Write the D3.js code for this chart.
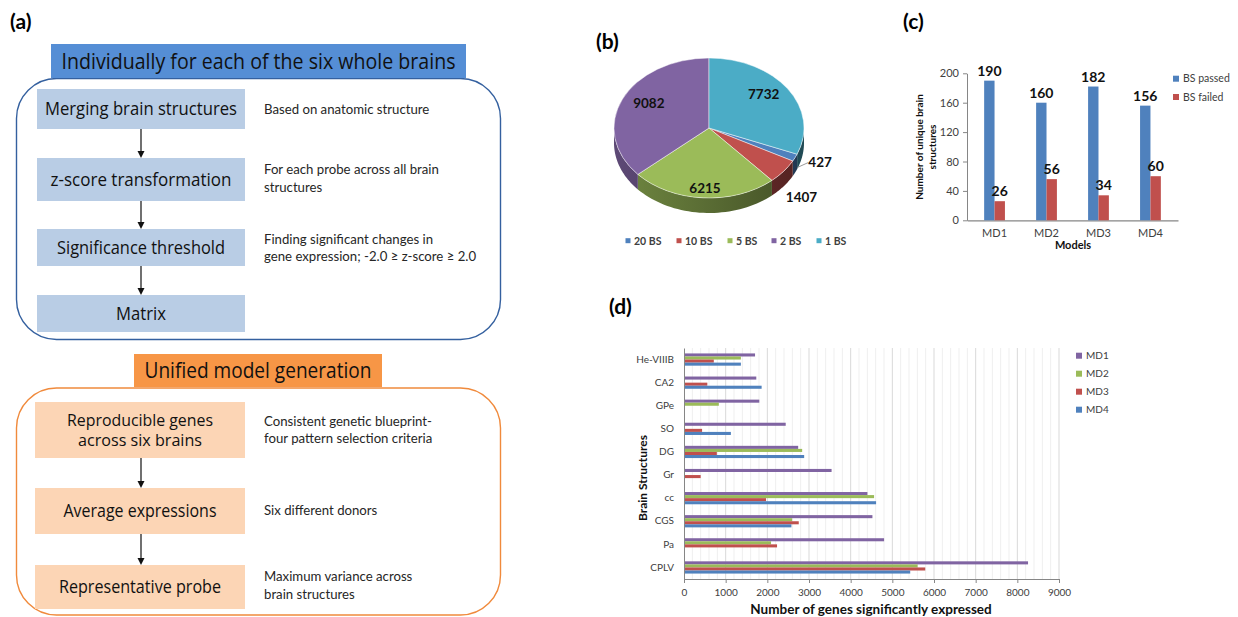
<!DOCTYPE html>
<html>
<head>
<meta charset="utf-8">
<script src="https://cdn.jsdelivr.net/npm/d3@7"></script>
<style>
  body { margin: 0; background: #fff; }
  svg { display: block; }
</style>
</head>
<body>
<svg id="fig" width="1238" height="617"></svg>
<script>
// ---------------- data ----------------
// (a) workflow steps and their notes
const perBrainTitle = "Individually for each of the six whole brains";
const perBrainSteps = [["Merging brain structures"], ["z-score transformation"], ["Significance threshold"], ["Matrix"]];
const perBrainNotes = [["Based on anatomic structure"], ["For each probe across all brain", "structures"],
  ["Finding significant changes in", "gene expression; -2.0 ≥ z-score ≥ 2.0"], []];
const unifiedTitle = "Unified model generation";
const unifiedSteps = [["Reproducible genes", "across six brains"], ["Average expressions"], ["Representative probe"]];
const unifiedNotes = [["Consistent genetic blueprint-", "four pattern selection criteria"], ["Six different donors"],
  ["Maximum variance across", "brain structures"]];

// (b) genes by number of brain structures
const pieLabels = ["20 BS", "10 BS", "5 BS", "2 BS", "1 BS"];
const pieValues = [427, 1407, 6215, 9082, 7732];

// (c) unique brain structures per model
const modelNames = ["MD1", "MD2", "MD3", "MD4"];
const bsPassed = [190, 160, 182, 156];
const bsFailed = [26, 56, 34, 60];
const cTicks = [0, 40, 80, 120, 160, 200];

// (d) genes significantly expressed per structure
const structures = ["He-VIIIB", "CA2", "GPe", "SO", "DG", "Gr", "cc", "CGS", "Pa", "CPLV"];
const md1 = [1705, 1735, 1807, 2441, 2740, 3542, 4402, 4522, 4802, 8257];
const md2 = [1365, 0, 836, 0, 2836, 0, 4562, 2595, 2089, 5607];
const md3 = [715, 560, 0, 434, 788, 400, 1968, 2754, 2233, 5790];
const md4 = [1365, 1863, 0, 1125, 2884, 0, 4610, 2578, 0, 5429];
const dTicks = [0, 1000, 2000, 3000, 4000, 5000, 6000, 7000, 8000, 9000];

// ---------------- styles ----------------
const SANS = "Lato, 'Open Sans', sans-serif";
const HAND = "'Open Sans', 'DejaVu Sans', sans-serif";
const OFFICE = { blue: "#4f81bd", red: "#c0504d", green: "#9bbb59", purple: "#8064a2", cyan: "#4bacc6" };
const AXIS = "#868686", TICKTXT = "#404040";

const svg = d3.select("#fig");

// panel tags
const tags = [{ t: "(a)", x: 10, y: 29 }, { t: "(b)", x: 596, y: 49 }, { t: "(c)", x: 903, y: 29 }, { t: "(d)", x: 609, y: 314 }];
svg.selectAll("text.tag").data(tags).join("text")
  .attr("class", "tag").attr("x", d => d.x).attr("y", d => d.y)
  .attr("font-family", SANS).attr("font-weight", 700).attr("font-size", 21).attr("fill", "#000")
  .text(d => d.t);

// ================= (a) workflow =================
function handText(g, str, cx, cy, size, len) {
  g.append("text").attr("x", cx).attr("y", cy + size * 0.36)
    .attr("text-anchor", "middle").attr("font-family", HAND).attr("font-size", size).attr("fill", "#111")
    .attr("textLength", len).attr("lengthAdjust", "spacingAndGlyphs").text(str);
}
function arrowDown(g, x, y1, y2) {
  const p = d3.path();
  p.moveTo(x, y1); p.lineTo(x, y2 - 6);
  g.append("path").attr("d", p.toString()).attr("stroke", "#111").attr("stroke-width", 1.2).attr("fill", "none");
  const h = d3.path();
  h.moveTo(x - 3.5, y2 - 7); h.lineTo(x + 3.5, y2 - 7); h.lineTo(x, y2); h.closePath();
  g.append("path").attr("d", h.toString()).attr("fill", "#111");
}
function flowSection(cfg) {
  const g = svg.append("g");
  g.append("rect").attr("x", 16.5).attr("y", cfg.frameY).attr("width", 484).attr("height", cfg.frameH)
    .attr("rx", 40).attr("ry", 40).attr("fill", "none").attr("stroke", cfg.frameStroke).attr("stroke-width", 1.4);
  g.append("rect").attr("x", cfg.head.x).attr("y", cfg.head.y).attr("width", cfg.head.w).attr("height", cfg.head.h)
    .attr("fill", cfg.headFill);
  handText(g, cfg.title, cfg.head.x + cfg.head.w / 2, cfg.head.y + cfg.head.h / 2, cfg.titleSize, cfg.titleLen);
  cfg.steps.forEach((lines, i) => {
    const b = cfg.boxes[i];
    g.append("rect").attr("x", b.x).attr("y", b.y).attr("width", b.w).attr("height", b.h).attr("fill", cfg.boxFill);
    const lh = 20;
    const size = lines.length > 1 ? 16 : 17.5;
    lines.forEach((ln, j) => {
      const cy = b.y + b.h / 2 + (j - (lines.length - 1) / 2) * lh;
      handText(g, ln, b.x + b.w / 2, cy, size, cfg.stepLens[i][j]);
    });
    if (i > 0) arrowDown(g, 141, cfg.boxes[i - 1].y + cfg.boxes[i - 1].h, b.y);
    const notes = cfg.notes[i];
    notes.forEach((ln, j) => {
      g.append("text").attr("x", 264).attr("y", cfg.noteY[i] + j * 17.3 + 4.6)
        .attr("font-family", SANS).attr("font-size", 13.2).attr("fill", "#262626").text(ln);
    });
  });
}
flowSection({
  frameY: 78.5, frameH: 261, frameStroke: "#34609f",
  head: { x: 51, y: 44, w: 415, h: 34 }, headFill: "#558ed5",
  title: perBrainTitle, titleSize: 21, titleLen: 394,
  boxFill: "#b9cde5",
  boxes: [{ x: 37, y: 89, w: 208, h: 40 }, { x: 37, y: 158, w: 208, h: 43 }, { x: 37, y: 229, w: 208, h: 37 }, { x: 37, y: 295, w: 208, h: 37 }],
  steps: perBrainSteps, stepLens: [[192], [181], [168], [50]],
  notes: perBrainNotes, noteY: [109.3, 169.7, 239, 0]
});
flowSection({
  frameY: 388, frameH: 227, frameStroke: "#f08a3c",
  head: { x: 134, y: 354, w: 248, h: 33 }, headFill: "#f79646",
  title: unifiedTitle, titleSize: 21, titleLen: 227,
  boxFill: "#fcd5b5",
  boxes: [{ x: 35, y: 402, w: 210, h: 56 }, { x: 35, y: 488, w: 210, h: 46 }, { x: 35, y: 565, w: 210, h: 44 }],
  steps: unifiedSteps, stepLens: [[146, 124], [153], [162]],
  notes: unifiedNotes, noteY: [421, 510.3, 576.7]
});

// ================= (b) 3-D pie =================
(function () {
  const cx = 709, cy = 128, rx = 95, ry = 70, depth = 15;
  const colors = [OFFICE.blue, OFFICE.red, OFFICE.green, OFFICE.purple, OFFICE.cyan];
  const total = d3.sum(pieValues);
  // rotate so that the last category starts at 12 o'clock
  const a0 = 2 * Math.PI * pieValues[pieValues.length - 1] / total;
  const arcs = d3.pie().sort(null).startAngle(a0).endAngle(a0 + 2 * Math.PI)(pieValues);
  const g = svg.append("g");
  const defs = svg.append("defs");
  const pt = (a, dz) => [cx + rx * Math.sin(a), cy - ry * Math.cos(a) + dz];
  const line = d3.line();

  // side walls (front half only)
  arcs.forEach((d, i) => {
    const grad = defs.append("linearGradient").attr("id", "side" + i).attr("gradientUnits", "userSpaceOnUse")
      .attr("x1", cx - rx).attr("x2", cx + rx).attr("y1", 0).attr("y2", 0);
    grad.append("stop").attr("offset", 0).attr("stop-color", d3.color(colors[i]).darker(0.9));
    grad.append("stop").attr("offset", 1).attr("stop-color", d3.color(colors[i]).darker(2.4));
    [[Math.PI / 2, 1.5 * Math.PI], [2.5 * Math.PI, 3.5 * Math.PI]].forEach(([lo, hi]) => {
      const s = Math.max(d.startAngle, lo), e = Math.min(d.endAngle, hi);
      if (e <= s) return;
      const n = 40, top = [], bot = [];
      for (let k = 0; k <= n; k++) {
        const a = s + (e - s) * k / n;
        top.push(pt(a, 0)); bot.push(pt(a, depth));
      }
      g.append("path").attr("d", line(top.concat(bot.reverse())) + "Z").attr("fill", `url(#side${i})`);
    });
  });

  // top faces
  const face = g.append("g").attr("transform", `translate(${cx},${cy}) scale(1,${ry / rx})`);
  const arc = d3.arc().innerRadius(0).outerRadius(rx);
  face.selectAll("path").data(arcs).join("path")
    .attr("d", arc).attr("fill", (d, i) => colors[i])
    .attr("stroke", "#ffffff").attr("stroke-opacity", 0.6).attr("stroke-width", 0.8)
    .attr("vector-effect", "non-scaling-stroke");

  // value labels
  const mid = d => (d.startAngle + d.endAngle) / 2;
  const lab = g.append("g").attr("font-family", SANS).attr("font-weight", 700).attr("font-size", 13.5)
    .attr("fill", "#111").attr("text-anchor", "middle");
  arcs.forEach((d, i) => {
    const a = mid(d);
    let x, y;
    if (d.value > 3000) {
      x = cx + 66 * Math.sin(a); y = cy - 60 * Math.cos(a);
    } else {
      const edge = pt(a, depth);
      x = edge[0] + (i === 0 ? 25 : 18); y = edge[1] + (i === 0 ? -10 : 11);
      if (i === 0) {
        g.append("path").attr("d", line([[edge[0] + 2, edge[1] - 5], [edge[0] + 13, edge[1] - 10]]))
          .attr("stroke", "#7f7f7f").attr("stroke-width", 0.8).attr("fill", "none");
      }
    }
    lab.append("text").attr("x", x).attr("y", y + 4.7).text(d3.format("d")(d.value));
  });

  // legend
  const legX = [628, 679, 730, 774, 819];
  const leg = g.append("g").attr("font-family", SANS).attr("font-weight", 700).attr("font-size", 10.5).attr("fill", TICKTXT);
  pieLabels.forEach((l, i) => {
    leg.append("rect").attr("x", legX[i] - 2.5).attr("y", 238.2).attr("width", 5).attr("height", 5).attr("fill", colors[i]);
    leg.append("text").attr("x", legX[i] + 6).attr("y", 244.5).text(l);
  });
})();

// ================= (c) grouped bars =================
(function () {
  const x = d3.scaleBand().domain(modelNames).range([967, 1178]).paddingInner(0.6).paddingOuter(0.33);
  const y = d3.scaleLinear().domain([0, 200]).range([220.3, 73.3]);
  const series = [{ key: "BS passed", vals: bsPassed, color: OFFICE.blue }, { key: "BS failed", vals: bsFailed, color: OFFICE.red }];
  const inner = d3.scaleBand().domain(series.map(s => s.key)).range([0, x.bandwidth()]);
  const g = svg.append("g");

  const ya = g.append("g").attr("transform", "translate(967,0)")
    .call(d3.axisLeft(y).tickValues(cTicks).tickSize(4).tickSizeOuter(0).tickPadding(4));
  ya.select(".domain").attr("stroke", AXIS);
  ya.selectAll(".tick line").attr("stroke", AXIS);
  ya.selectAll("text").attr("font-family", SANS).attr("font-size", 11).attr("fill", TICKTXT);

  const xa = g.append("g").attr("transform", "translate(0,220.3)")
    .call(d3.axisBottom(x).tickSize(0).tickPadding(9));
  xa.select(".domain").attr("stroke", AXIS).attr("stroke-width", 1.2);
  xa.selectAll("text").attr("font-family", SANS).attr("font-size", 11).attr("fill", TICKTXT);

  series.forEach(s => {
    g.selectAll(null).data(modelNames).join("rect")
      .attr("x", m => x(m) + inner(s.key)).attr("width", inner.bandwidth())
      .attr("y", (m, i) => y(s.vals[i])).attr("height", (m, i) => y(0) - y(s.vals[i]))
      .attr("fill", s.color);
    g.selectAll(null).data(modelNames).join("text")
      .attr("x", m => x(m) + inner(s.key) + inner.bandwidth() / 2)
      .attr("y", (m, i) => y(s.vals[i]) - 5)
      .attr("text-anchor", "middle").attr("font-family", SANS).attr("font-weight", 700).attr("font-size", 14)
      .attr("fill", "#111").text((m, i) => s.vals[i]);
  });

  g.append("text").attr("x", 1073).attr("y", 248.5).attr("text-anchor", "middle")
    .attr("font-family", SANS).attr("font-weight", 700).attr("font-size", 11).attr("fill", "#111").text("Models");
  const yt = g.append("text").attr("transform", "translate(926,147) rotate(-90)").attr("text-anchor", "middle")
    .attr("font-family", SANS).attr("font-weight", 700).attr("font-size", 10).attr("fill", "#111");
  yt.append("tspan").attr("x", 0).attr("dy", -3.5).text("Number of unique brain");
  yt.append("tspan").attr("x", 0).attr("dy", 13).text("structures");

  series.forEach((s, i) => {
    const cyL = 78.7 + i * 18.3;
    g.append("rect").attr("x", 1173).attr("y", cyL - 3).attr("width", 6).attr("height", 6).attr("fill", s.color);
    g.append("text").attr("x", 1183).attr("y", cyL + 3.6).attr("font-family", SANS).attr("font-size", 10.5)
      .attr("fill", TICKTXT).text(s.key);
  });
})();

// ================= (d) horizontal grouped bars =================
(function () {
  const x = d3.scaleLinear().domain([0, 9000]).range([684, 1059]);
  const y = d3.scaleBand().domain(structures).range([348, 579]).paddingInner(0.47).paddingOuter(0.235);
  const series = [{ key: "MD1", vals: md1, color: OFFICE.purple }, { key: "MD2", vals: md2, color: OFFICE.green },
    { key: "MD3", vals: md3, color: OFFICE.red }, { key: "MD4", vals: md4, color: OFFICE.blue }];
  const inner = d3.scaleBand().domain(series.map(s => s.key)).range([0, y.bandwidth()]);
  const g = svg.append("g");

  // gridlines: minor every 200, major every 1000
  g.append("g").selectAll("line").data(d3.range(200, 9001, 200).filter(v => v % 1000 !== 0)).join("line")
    .attr("x1", d => x(d)).attr("x2", d => x(d)).attr("y1", 348).attr("y2", 579)
    .attr("stroke", "#efefef").attr("stroke-width", 1);
  g.append("g").selectAll("line").data(dTicks.slice(1)).join("line")
    .attr("x1", d => x(d)).attr("x2", d => x(d)).attr("y1", 348).attr("y2", 579)
    .attr("stroke", "#d9d9d9").attr("stroke-width", 1);

  series.forEach(s => {
    g.selectAll(null).data(structures.map((st, i) => ({ st, v: s.vals[i] })).filter(d => d.v > 0)).join("rect")
      .attr("x", x(0)).attr("width", d => x(d.v) - x(0))
      .attr("y", d => y(d.st) + inner(s.key)).attr("height", inner.bandwidth())
      .attr("fill", s.color);
  });

  const xa = g.append("g").attr("transform", "translate(0,579)")
    .call(d3.axisBottom(x).tickValues(dTicks).tickFormat(d3.format("d")).tickSize(4).tickSizeOuter(0).tickPadding(6));
  xa.select(".domain").attr("stroke", AXIS);
  xa.selectAll(".tick line").attr("stroke", AXIS);
  xa.selectAll("text").attr("font-family", SANS).attr("font-size", 10).attr("fill", TICKTXT);

  const ya = g.append("g").attr("transform", "translate(684,0)")
    .call(d3.axisLeft(y).tickSize(0).tickPadding(10));
  ya.select(".domain").attr("stroke", AXIS);
  ya.selectAll("text").attr("font-family", SANS).attr("font-size", 10).attr("fill", TICKTXT);

  g.append("text").attr("x", 871).attr("y", 614).attr("text-anchor", "middle")
    .attr("font-family", SANS).attr("font-weight", 700).attr("font-size", 13.5).attr("fill", "#111")
    .text("Number of genes significantly expressed");
  g.append("text").attr("transform", "translate(647,478) rotate(-90)").attr("text-anchor", "middle")
    .attr("font-family", SANS).attr("font-weight", 700).attr("font-size", 12).attr("fill", "#111")
    .text("Brain Structures");

  series.forEach((s, i) => {
    const cyL = 355.7 + i * 18;
    g.append("rect").attr("x", 1076).attr("y", cyL - 3).attr("width", 6).attr("height", 6).attr("fill", s.color);
    g.append("text").attr("x", 1086).attr("y", cyL + 3.5).attr("font-family", SANS).attr("font-size", 10)
      .attr("fill", TICKTXT).text(s.key);
  });
})();
</script>
</body>
</html>
